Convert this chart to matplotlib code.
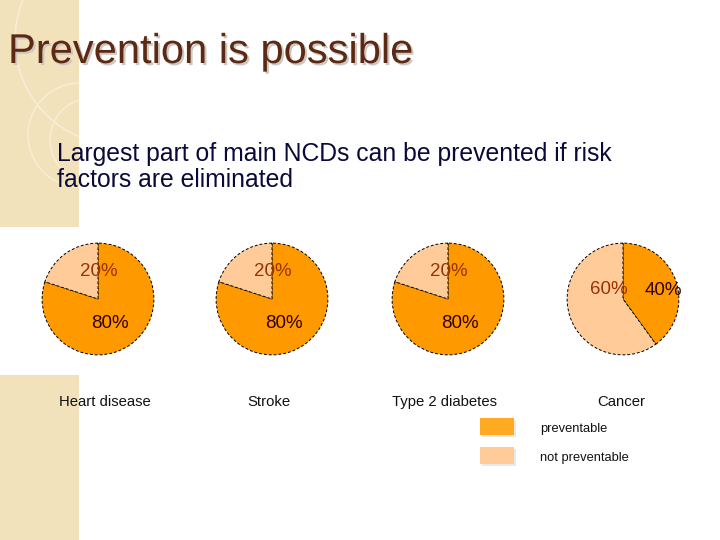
import matplotlib
matplotlib.use("Agg")
import matplotlib.pyplot as plt
import matplotlib.patheffects as pe
from matplotlib.patches import Rectangle, Circle

categories = ["Heart disease", "Stroke", "Type 2 diabetes", "Cancer"]
preventable = [80, 80, 80, 40]
not_preventable = [20, 20, 20, 60]
series_names = ["preventable", "not preventable"]

title = "Prevention is possible"
subtitle = "Largest part of main NCDs can be prevented if risk\nfactors are eliminated"

C_PREV = "#FF9900"
C_NOT = "#FFCC99"
C_LEG_PREV = "#FFAA22"
C_TXT_PREV = "#330000"
C_TXT_NOT = "#993300"
BEIGE = "#F1E2BC"

W, H = 720, 540
fig = plt.figure(figsize=(7.2, 5.4), dpi=100)
bg = fig.add_axes([0, 0, 1, 1])
bg.set_xlim(0, W)
bg.set_ylim(H, 0)
bg.axis("off")

# decorative beige strips
r1 = Rectangle((0, 0), 79, 227, facecolor=BEIGE, edgecolor="none")
r2 = Rectangle((0, 375), 79, 165, facecolor=BEIGE, edgecolor="none")
bg.add_patch(r1)
bg.add_patch(r2)
for (cx, cy, rr) in [(120, 40, 105), (80, 135, 52), (92, 140, 42)]:
    c = Circle((cx, cy), rr, fill=False, edgecolor="#F8EDD2", lw=1.2)
    bg.add_patch(c)
    c.set_clip_path(r1)

# title with shadow
bg.text(8, 52, title, fontsize=30, color="#5C2A14", ha="left", va="center",
        family="Liberation Sans",
        path_effects=[pe.SimplePatchShadow(offset=(1.5, -1.5), shadow_rgbFace="#CFC8C0", alpha=1.0),
                      pe.Normal()])
bg.text(57, 167, subtitle, fontsize=17.8, color="#0A0A3A", ha="left", va="center",
        family="Liberation Sans", linespacing=1.15)

# pies
centers_x = [98, 272, 448, 623]
cy = 299
R = 57
label_x = [105, 269, 445, 621]
for i, cat in enumerate(categories):
    cx = centers_x[i]
    ax = fig.add_axes([(cx - R) / W, 1 - (cy + R) / H, 2 * R / W, 2 * R / H])
    wedges, _ = ax.pie([preventable[i], not_preventable[i]], colors=[C_PREV, C_NOT],
                       startangle=90, counterclock=False, radius=1.0,
                       wedgeprops=dict(edgecolor="black", linewidth=0.7, linestyle=(0, (3, 2))))
    ax.set_xlim(-1.02, 1.02)
    ax.set_ylim(-1.02, 1.02)
    ax.set_aspect("equal")
    if preventable[i] > not_preventable[i]:
        ax.text(0.02, 0.49, f"{not_preventable[i]}%", color=C_TXT_NOT, fontsize=13.5,
                ha="center", va="center", family="Liberation Sans")
        ax.text(0.21, -0.44, f"{preventable[i]}%", color=C_TXT_PREV, fontsize=13.5,
                ha="center", va="center", family="Liberation Sans")
    else:
        ax.text(-0.25, 0.17, f"{not_preventable[i]}%", color=C_TXT_NOT, fontsize=13.5,
                ha="center", va="center", family="Liberation Sans")
        ax.text(0.72, 0.16, f"{preventable[i]}%", color=C_TXT_PREV, fontsize=13.5,
                ha="center", va="center", family="Liberation Sans")
    bg.text(label_x[i], 402, cat, fontsize=10.7, color="#111111", ha="center", va="center",
            family="Liberation Sans")

# legend
for j, (name, col) in enumerate(zip(series_names, [C_LEG_PREV, C_NOT])):
    y0 = 418 + j * 29
    bg.add_patch(Rectangle((482, y0 + 2), 34, 17, facecolor="#E8E8E8", edgecolor="none"))
    bg.add_patch(Rectangle((480, y0), 34, 17, facecolor=col, edgecolor="none"))
    bg.text(540, y0 + 11, name, fontsize=9.3, color="#111111", ha="left", va="center",
            family="Liberation Sans")

fig.savefig("out.png", dpi=100)
